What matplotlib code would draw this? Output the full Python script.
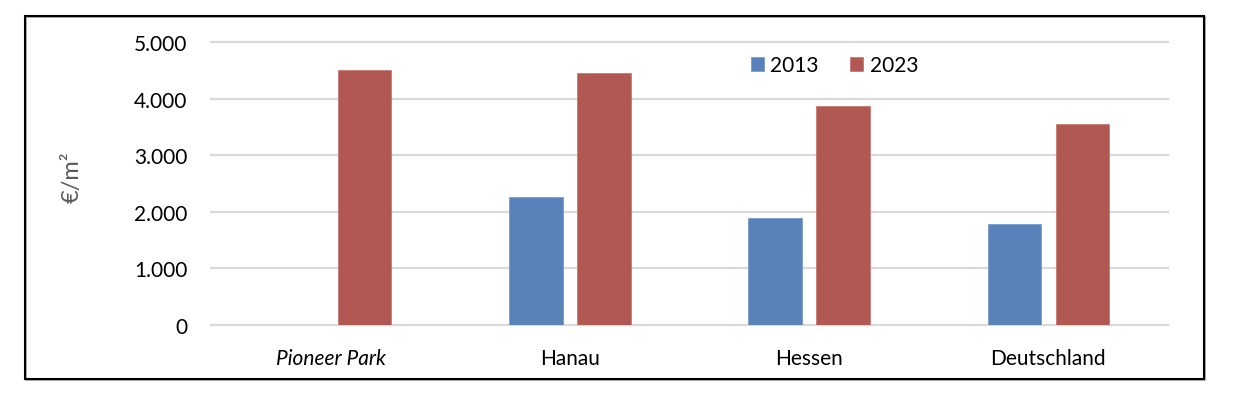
import numpy as np
import matplotlib
matplotlib.use("Agg")
import matplotlib.pyplot as plt
from matplotlib.patches import Rectangle

categories = ["Pioneer Park", "Hanau", "Hessen", "Deutschland"]
series_names = ["2013", "2023"]
values_2013 = [np.nan, 2260, 1890, 1790]
values_2023 = [4510, 4450, 3880, 3560]
yticks = [0, 1000, 2000, 3000, 4000, 5000]
ytick_labels = ["0", "1.000", "2.000", "3.000", "4.000", "5.000"]
ylabel = "€/m²"

c_2013 = "#5981BA"
c_2023 = "#B25852"
grid_c = "#D9D9D9"

plt.rcParams['font.family'] = ['Lato', 'DejaVu Sans']

W, H = 1248, 406
fig = plt.figure(figsize=(W / 100, H / 100), dpi=100)

def fx(px):
    return px / W

def fy(py):
    return (H - py) / H

ax = fig.add_axes([fx(211), fy(325.7), fx(1168) - fx(211), fy(43.3) - fy(325.7)])

x = np.arange(len(categories))
bw = 0.2236
off = 0.1423
ax.bar(x - off, values_2013, width=bw, color=c_2013, edgecolor="#7B9BC9", linewidth=0.6,
       label=series_names[0], zorder=3)
ax.bar(x + off, values_2023, width=bw, color=c_2023, edgecolor="#C47A75", linewidth=0.6,
       label=series_names[1], zorder=3)

ax.set_xlim(-0.5, len(categories) - 0.5)
ax.set_ylim(0, 5000)
ax.set_yticks(yticks)
ax.set_yticklabels(ytick_labels)
ax.set_xticks(x)
ax.set_xticklabels(categories)
ax.get_xticklabels()[0].set_style("italic")

for y in yticks:
    ax.axhline(y, color=grid_c, lw=1.6, zorder=1, clip_on=False)

for s in ax.spines.values():
    s.set_visible(False)
ax.tick_params(axis="both", length=0, labelsize=15, colors="black")
ax.tick_params(axis="x", pad=17)
ax.tick_params(axis="y", pad=17)

fig.text(fx(72), fy(177), ylabel, rotation=90, ha="center", va="center",
         fontsize=17, color="#595959")

leg = fig.legend(loc="center left", bbox_to_anchor=(fx(750.7), fy(66)),
                 bbox_transform=fig.transFigure, ncol=2, frameon=False,
                 fontsize=15, handlelength=0.64, handleheight=0.64,
                 handletextpad=0.3, columnspacing=1.5, borderpad=0,
                 borderaxespad=0)

# outer frame
fig.patches.append(Rectangle((fx(26), fy(381)), fx(1205) - fx(26), fy(18) - fy(381),
                             transform=fig.transFigure, fill=False,
                             edgecolor="#A0A0A0", lw=1.2, zorder=0))
fig.patches.append(Rectangle((fx(25), fy(380)), fx(1204) - fx(25), fy(17) - fy(380),
                             transform=fig.transFigure, fill=False,
                             edgecolor="black", lw=1.5, zorder=1))

fig.savefig("out.png", dpi=100)
